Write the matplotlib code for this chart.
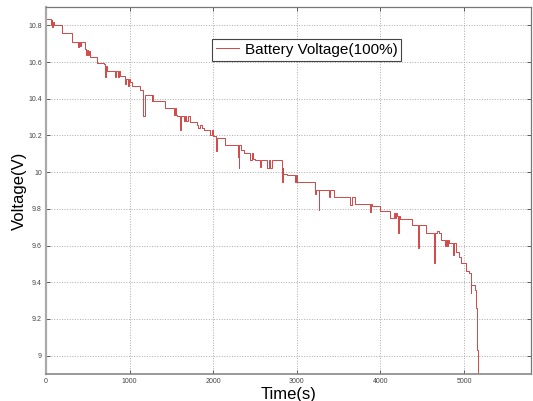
import numpy as np
import matplotlib.pyplot as plt

# czas [s] i napiecie [V] (schodki: steps-post)
czas = [0, 60, 68, 76, 84, 92, 188, 307, 385, 395, 410, 420, 467, 480, 490, 500, 510,
        527, 607, 695, 710, 720, 730, 746, 826, 840, 856, 870, 886, 946, 960, 976, 990,
        1006, 1026, 1126, 1166, 1186, 1265, 1272, 1285, 1425, 1525, 1540, 1555, 1565,
        1605, 1612, 1645, 1660, 1680, 1700, 1725, 1805, 1820, 1840, 1860, 1884, 1964,
        1980, 2000, 2024, 2036, 2044, 2144, 2164, 2291, 2303, 2312, 2330, 2363, 2443,
        2460, 2480, 2503, 2563, 2570, 2643, 2663, 2680, 2703, 2822, 2830, 2840, 2882,
        2982, 2990, 3002, 3222, 3235, 3262, 3270, 3381, 3400, 3441, 3641, 3660, 3700,
        3880, 3890, 3900, 4000, 4120, 4160, 4170, 4180, 4192, 4212, 4220, 4232, 4379,
        4447, 4455, 4539, 4639, 4648, 4680, 4700, 4719, 4766, 4780, 4795, 4806, 4818,
        4870, 4878, 4898, 4938, 4958, 5018, 5058, 5078, 5088, 5098, 5126, 5138, 5146,
        5150, 5154, 5158, 5162, 5166]
napiecie = [10.833, 10.80, 10.83, 10.79, 10.82, 10.80, 10.756, 10.71, 10.68, 10.71,
            10.69, 10.71, 10.67, 10.64, 10.665, 10.64, 10.66, 10.63, 10.596, 10.587,
            10.52, 10.58, 10.55, 10.55, 10.52, 10.55, 10.52, 10.55, 10.523, 10.48,
            10.505, 10.47, 10.505, 10.49, 10.472, 10.45, 10.304, 10.423, 10.39, 10.42,
            10.39, 10.35, 10.31, 10.35, 10.31, 10.308, 10.232, 10.305, 10.28, 10.305,
            10.28, 10.305, 10.272, 10.259, 10.24, 10.259, 10.24, 10.232, 10.20, 10.232,
            10.195, 10.195, 10.113, 10.186, 10.15, 10.15, 10.08, 10.024, 10.15, 10.12,
            10.104, 10.068, 10.104, 10.07, 10.068, 10.03, 10.068, 10.022, 10.068, 10.022,
            10.068, 9.949, 10.022, 9.99, 9.986, 9.949, 9.986, 9.949, 9.88, 9.904, 9.794,
            9.904, 9.867, 9.904, 9.867, 9.822, 9.867, 9.827, 9.785, 9.827, 9.813, 9.79,
            9.749, 9.78, 9.75, 9.78, 9.762, 9.667, 9.762, 9.744, 9.713, 9.585, 9.713,
            9.667, 9.503, 9.667, 9.68, 9.667, 9.631, 9.60, 9.631, 9.60, 9.631, 9.613,
            9.549, 9.613, 9.567, 9.540, 9.503, 9.463, 9.45, 9.339, 9.385, 9.385, 9.36,
            9.321, 9.26, 9.212, 9.12, 9.03, 8.95, 8.88]

xticks = [0, 1000, 2000, 3000, 4000, 5000]
yticks = [9, 9.2, 9.4, 9.6, 9.8, 10, 10.2, 10.4, 10.6, 10.8]

plt.rcParams['font.family'] = ['Liberation Sans', 'DejaVu Sans']

fig = plt.figure(figsize=(5.33, 4.01), dpi=100)
ax = fig.add_axes([0.0863, 0.0673, 0.9099, 0.9152])

ax.plot(czas, napiecie, color='#d24646', linewidth=0.7, drawstyle='steps-post',
        label='Battery Voltage(100%)')

ax.set_xlim(0, 5800)
ax.set_ylim(8.9, 10.9)
ax.set_xticks(xticks)
ax.set_xticklabels([str(t) for t in xticks])
ax.set_yticks(yticks)
ax.set_yticklabels(['9', '9.2', '9.4', '9.6', '9.8', '10', '10.2', '10.4', '10.6', '10.8'])
ax.tick_params(direction='in', length=3, width=0.6, labelsize=5, pad=3,
               top=True, right=True, colors='#444444')
ax.grid(True, linestyle=':', color='#aaaaaa', linewidth=0.7)

for s in ax.spines.values():
    s.set_color('#777777')
    s.set_linewidth(0.9)
ax.spines['left'].set_color('#aaaaaa')
ax.spines['left'].set_linewidth(1.6)
ax.spines['bottom'].set_color('#888888')
ax.spines['bottom'].set_linewidth(1.2)

ax.set_xlabel('Time(s)', fontsize=12, labelpad=1)
ax.set_ylabel('Voltage(V)', fontsize=12, labelpad=1)

leg = ax.legend(loc='upper left', bbox_to_anchor=(0.342, 0.913), borderaxespad=0,
                fontsize=11, fancybox=False, handlelength=1.5, handletextpad=0.4,
                borderpad=0.25, framealpha=1)
leg.get_frame().set_edgecolor('#444444')
leg.get_frame().set_linewidth(0.8)

plt.savefig('out.png', dpi=100)
